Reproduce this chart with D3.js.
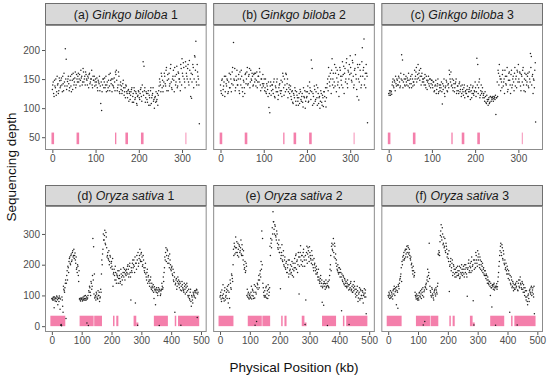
<!DOCTYPE html>
<html>
<head>
<meta charset="utf-8">
<script src="https://cdn.jsdelivr.net/npm/d3@7"></script>
<style>
  body { margin: 0; background: #fff; }
  svg { display: block; font-family: "Liberation Sans", Arial, sans-serif; }
</style>
</head>
<body>
<svg id="chart" width="550" height="378"></svg>
<script>
// sliding-window depth, one value per window (kb). The "b" arrays are the
// windows that start half a step later.
const ginkgoStep = 2;
const oryzaStep = 2.5;

const ginkgo1 = [
  132, 145, 120, 138, 150, 128, 140, 125, 152, 135,
  148, 140, 155, 130, 145, 202, 184, 138, 150, 142,
  135, 155, 128, 148, 160, 140, 152, 135, 158, 145,
  160, 150, 138, 165, 155, 145, 162, 150, 140, 158,
  148, 155, 135, 160, 145, 150, 140, 155, 148, 138,
  150, 145, 135, 148, 142, 130, 108, 96, 140, 150,
  145, 135, 155, 140, 130, 148, 138, 160, 142, 128,
  150, 135, 145, 162, 165, 130, 140, 155, 125, 145,
  138, 130, 148, 122, 135, 140, 128, 118, 132, 125,
  115, 128, 135, 120, 110, 130, 118, 125, 105, 122,
  128, 115, 132, 120, 140, 180, 172, 135, 118, 125,
  110, 130, 122, 105, 135, 118, 125, 112, 100, 120,
  128, 115, 105, 130, 150, 140, 160, 135, 128, 145,
  155, 138, 170, 148, 130, 160, 142, 175, 135, 150,
  165, 128, 155, 145, 172, 138, 160, 150, 130, 168,
  185, 155, 170, 145, 180, 160, 150, 175, 140, 165,
  120, 117, 158, 170, 150, 188, 215, 140, 162, 150,
  73
];
const ginkgo1b = [
  140, 125, 148, 135, 122, 155, 142, 130, 147, 138,
  152, 128, 142, 160, 138, 150, 132, 146, 155, 130,
  148, 138, 158, 132, 150, 145, 162, 140, 150, 155,
  145, 158, 148, 152, 140, 168, 145, 155, 162, 150,
  140, 152, 158, 142, 150, 165, 135, 148, 155, 145,
  140, 152, 130, 145, 155, 138, 145, 128, 150, 135,
  152, 140, 128, 145, 135, 158, 130, 148, 150, 140,
  138, 152, 130, 158, 148, 135, 162, 128, 140, 132,
  125, 142, 135, 128, 118, 138, 125, 130, 112, 128,
  122, 132, 110, 125, 135, 115, 128, 108, 120, 130,
  118, 125, 135, 112, 128, 122, 130, 110, 128, 115,
  125, 105, 118, 130, 108, 122, 135, 115, 118, 110,
  112, 125, 122, 138, 145, 128, 155, 148, 138, 160,
  142, 165, 130, 158, 150, 138, 168, 145, 132, 155,
  148, 170, 140, 158, 135, 162, 150, 145, 175, 140,
  160, 178, 150, 135, 172, 155, 168, 145, 182, 150,
  160, 145, 175, 135, 190, 165, 145, 175, 155, 140
];
const ginkgo2 = [
  140, 125, 150, 132, 145, 120, 155, 138, 148, 128,
  160, 135, 150, 142, 170, 213, 148, 130, 155, 165,
  140, 158, 125, 150, 165, 135, 120, 145, 125, 160,
  150, 170, 142, 158, 135, 165, 148, 155, 140, 160,
  150, 138, 162, 145, 155, 168, 140, 150, 135, 158,
  142, 130, 150, 125, 138, 120, 101, 92, 145, 130,
  140, 125, 150, 118, 135, 145, 128, 122, 140, 130,
  148, 120, 160, 135, 150, 128, 158, 142, 118, 135,
  125, 138, 115, 130, 108, 122, 135, 112, 128, 118,
  105, 125, 132, 115, 120, 110, 135, 118, 100, 128,
  120, 138, 112, 145, 130, 183, 168, 125, 108, 132,
  115, 140, 105, 125, 118, 100, 130, 110, 122, 103,
  128, 112, 102, 135, 150, 170, 145, 160, 125, 185,
  150, 135, 175, 160, 128, 165, 145, 120, 170, 155,
  140, 180, 158, 125, 168, 150, 185, 135, 162, 175,
  190, 160, 145, 178, 135, 165, 192, 150, 120, 170,
  114, 175, 155, 140, 204, 165, 219, 150, 135, 160,
  75
];
const ginkgo2b = [
  130, 148, 122, 138, 155, 128, 142, 150, 125, 145,
  135, 158, 128, 162, 140, 150, 168, 135, 148, 140,
  150, 130, 162, 140, 155, 128, 148, 135, 158, 142,
  162, 140, 155, 168, 145, 150, 160, 138, 158, 145,
  160, 148, 135, 155, 145, 162, 130, 150, 142, 138,
  150, 135, 128, 142, 132, 145, 125, 138, 122, 140,
  132, 145, 120, 138, 128, 150, 115, 135, 142, 125,
  130, 145, 155, 122, 140, 160, 132, 150, 128, 140,
  132, 120, 128, 110, 125, 118, 130, 105, 122, 112,
  118, 108, 128, 112, 125, 102, 120, 130, 112, 118,
  128, 110, 125, 135, 115, 128, 105, 120, 138, 112,
  128, 118, 135, 108, 120, 112, 125, 105, 118, 128,
  120, 135, 118, 142, 130, 155, 138, 150, 165, 140,
  160, 145, 138, 170, 152, 140, 158, 135, 165, 148,
  155, 135, 172, 160, 145, 178, 142, 165, 150, 158,
  170, 148, 182, 155, 140, 168, 158, 132, 175, 150,
  145, 165, 135, 180, 155, 170, 140, 160, 175, 155
];
const ginkgo3 = [
  125, 130, 122, 128, 140, 150, 135, 145, 155, 138,
  148, 140, 152, 135, 160, 192, 183, 145, 150, 138,
  155, 140, 148, 160, 135, 150, 142, 158, 138, 145,
  165, 155, 170, 150, 175, 160, 148, 168, 155, 145,
  150, 140, 158, 135, 148, 145, 155, 138, 150, 142,
  148, 135, 145, 130, 140, 125, 138, 150, 128, 135,
  140, 145, 107, 132, 150, 120, 138, 145, 128, 142,
  165, 150, 162, 140, 135, 148, 128, 142, 150, 130,
  138, 125, 145, 132, 120, 140, 128, 135, 118, 130,
  125, 138, 120, 132, 128, 140, 118, 135, 125, 130,
  145, 120, 186, 175, 135, 150, 122, 140, 128, 118,
  125, 112, 120, 108, 115, 105, 118, 110, 120, 118,
  118, 112, 120, 115, 89, 118, 120, 160, 175, 150,
  150, 135, 165, 145, 125, 155, 140, 170, 132, 160,
  148, 125, 165, 140, 155, 130, 170, 150, 135, 162,
  175, 145, 160, 130, 155, 165, 140, 150, 128, 158,
  145, 160, 135, 150, 194, 189, 155, 125, 148, 165,
  76
];
const ginkgo3b = [
  122, 126, 130, 124, 145, 138, 148, 130, 142, 150,
  140, 155, 145, 138, 150, 148, 135, 158, 140, 150,
  145, 152, 138, 148, 142, 155, 135, 150, 145, 140,
  150, 162, 145, 158, 152, 165, 155, 140, 160, 150,
  145, 152, 140, 155, 132, 148, 142, 150, 135, 148,
  140, 145, 128, 138, 148, 132, 142, 125, 140, 130,
  135, 128, 142, 138, 125, 135, 148, 130, 140, 135,
  158, 145, 138, 150, 130, 142, 135, 145, 125, 138,
  130, 142, 128, 138, 125, 132, 122, 140, 128, 125,
  132, 120, 128, 135, 115, 130, 125, 138, 122, 128,
  135, 128, 140, 125, 145, 118, 130, 125, 135, 122,
  118, 128, 110, 122, 112, 115, 108, 120, 112, 115,
  120, 116, 118, 122, 118, 145, 165, 140, 155, 130,
  145, 158, 138, 150, 165, 142, 155, 128, 148, 162,
  140, 158, 135, 150, 145, 160, 138, 155, 165, 145,
  150, 162, 138, 158, 145, 170, 130, 160, 148, 140,
  155, 138, 162, 145, 170, 140, 158, 150, 135, 178
];

const oryza1 = [
  90, 85, 95, 60, 88, 92, 80, 95, 70, 90,
  98, 55, 3, 1, 85, 45, 120, 110, 140, 25,
  165, 150, 190, 210, 225, 200, 235, 215, 245, 230,
  220, 238, 205, 185, 175, 195, 145, 88, 85, 92,
  88, 82, 95, 85, 90, 100, 85, 10, 92, 2,
  110, 125, 100, 140, 130, 285, 258, 170, 95, 85,
  105, 90, 115, 100, 80, 95, 110, 215, 235, 300,
  280, 312, 265, 290, 225, 240, 215, 200, 230, 190,
  210, 185, 130, 175, 165, 195, 150, 170, 160, 140,
  180, 155, 145, 170, 135, 165, 190, 175, 150, 180,
  185, 170, 200, 160, 195, 175, 85, 180, 205, 190,
  215, 175, 75, 205, 230, 3, 195, 220, 250, 210,
  240, 225, 200, 215, 180, 190, 170, 150, 185, 160,
  145, 130, 150, 125, 140, 115, 135, 90, 120, 70,
  110, 118, 100, 125, 2, 115, 105, 120, 130, 125,
  145, 190, 215, 255, 230, 245, 220, 205, 235, 200,
  180, 195, 165, 150, 175, 45, 140, 155, 130, 160,
  150, 125, 140, 3, 115, 135, 120, 110, 130, 105,
  125, 140, 115, 95, 100, 85, 120, 65, 95, 75,
  105, 95, 110, 115, 120, 28, 110
];
const oryza1b = [
  88, 92, 85, 95, 82, 90, 98, 86, 92, 80,
  92, 88, 5, 95, 65, 130, 115, 125, 150, 140,
  180, 195, 175, 220, 205, 230, 210, 240, 225, 250,
  230, 215, 225, 190, 200, 165, 180, 90, 82, 88,
  92, 85, 88, 98, 84, 90, 95, 88, 100, 115,
  130, 110, 145, 120, 165, 150, 105, 92, 100, 110,
  95, 88, 100, 110, 92, 120, 170, 200, 250, 280,
  295, 270, 305, 255, 230, 220, 245, 210, 225, 205,
  195, 220, 170, 185, 150, 175, 140, 165, 180, 155,
  165, 140, 185, 160, 150, 175, 160, 185, 170, 165,
  175, 195, 185, 170, 205, 160, 190, 175, 215, 200,
  195, 225, 205, 185, 215, 240, 205, 230, 215, 235,
  210, 195, 230, 190, 175, 205, 160, 175, 140, 165,
  150, 140, 160, 120, 130, 125, 110, 128, 115, 120,
  125, 108, 118, 112, 120, 100, 115, 140, 120, 160,
  175, 225, 240, 210, 250, 205, 228, 190, 215, 185,
  190, 170, 185, 145, 160, 135, 150, 120, 145, 140,
  135, 145, 118, 130, 145, 125, 115, 140, 120, 135,
  110, 130, 100, 120, 90, 110, 80, 100, 85, 110,
  100, 115, 92, 108, 118, 105
];
const oryza2 = [
  95, 110, 80, 100, 135, 90, 115, 85, 100, 120,
  130, 75, 110, 60, 140, 120, 165, 145, 250, 270,
  235, 290, 255, 240, 270, 225, 260, 245, 280, 230,
  250, 215, 200, 190, 175, 205, 100, 95, 110, 88,
  105, 92, 130, 100, 115, 90, 135, 3, 110, 15,
  140, 120, 165, 150, 180, 210, 310, 285, 125, 100,
  115, 95, 130, 105, 90, 120, 110, 260, 285, 255,
  320, 372, 340, 300, 325, 290, 310, 270, 250, 280,
  240, 122, 230, 265, 210, 245, 195, 225, 185, 210,
  175, 200, 160, 215, 185, 170, 195, 165, 205, 180,
  220, 190, 235, 210, 175, 240, 105, 225, 262, 200,
  230, 195, 250, 215, 5, 85, 240, 205, 255, 225,
  258, 230, 215, 245, 200, 190, 220, 205, 180, 195,
  170, 160, 185, 150, 145, 165, 140, 78, 130, 68,
  140, 120, 150, 130, 2, 145, 125, 165, 200, 180,
  270, 245, 285, 225, 260, 235, 215, 185, 200, 170,
  190, 160, 175, 50, 150, 165, 140, 155, 130, 145,
  125, 150, 135, 5, 120, 140, 115, 130, 110, 125,
  145, 120, 95, 110, 130, 80, 105, 125, 90, 115,
  100, 115, 75, 105, 95, 118, 40
];
const oryza2b = [
  100, 88, 118, 92, 105, 82, 125, 95, 110, 90,
  115, 135, 90, 150, 125, 170, 155, 200, 230, 260,
  255, 240, 275, 230, 250, 265, 240, 255, 235, 265,
  230, 245, 185, 210, 180, 195, 120, 105, 92, 100,
  95, 110, 88, 120, 98, 110, 92, 130, 105, 125,
  135, 150, 125, 170, 160, 185, 200, 140, 110, 95,
  100, 125, 92, 115, 135, 100, 125, 230, 270, 280,
  300, 340, 315, 330, 295, 280, 300, 255, 265, 240,
  255, 220, 240, 215, 230, 200, 215, 190, 205, 175,
  190, 215, 170, 180, 200, 175, 210, 185, 160, 190,
  205, 230, 185, 215, 200, 225, 195, 240, 215, 230,
  210, 240, 225, 195, 230, 215, 260, 235, 245, 210,
  240, 220, 205, 230, 215, 180, 200, 190, 170, 185,
  175, 150, 160, 140, 155, 130, 150, 125, 138, 145,
  130, 138, 125, 140, 132, 128, 150, 185, 230, 260,
  250, 265, 240, 270, 220, 205, 195, 180, 175, 190,
  175, 185, 160, 170, 145, 160, 135, 150, 140, 130,
  140, 130, 118, 135, 125, 145, 120, 110, 135, 115,
  130, 105, 120, 100, 115, 92, 110, 85, 120, 100,
  90, 110, 100, 122, 108, 95
];
const oryza3 = [
  100, 110, 90, 115, 95, 105, 88, 120, 130, 100,
  125, 70, 115, 58, 130, 140, 155, 170, 145, 200,
  215, 240, 220, 250, 235, 260, 225, 255, 240, 230,
  215, 200, 190, 170, 180, 165, 110, 95, 105, 90,
  100, 85, 110, 95, 105, 120, 100, 4, 112, 15,
  125, 140, 150, 185, 165, 270, 130, 110, 95, 120,
  100, 85, 115, 105, 125, 110, 130, 235, 245, 230,
  295, 330, 280, 300, 270, 255, 285, 240, 260, 225,
  235, 210, 113, 200, 220, 190, 215, 175, 195, 170,
  185, 160, 175, 195, 165, 180, 155, 190, 170, 185,
  175, 195, 160, 185, 200, 170, 97, 190, 215, 180,
  205, 175, 225, 195, 83, 4, 215, 190, 230, 205,
  245, 215, 200, 225, 185, 210, 195, 175, 190, 165,
  180, 155, 165, 140, 150, 135, 145, 100, 125, 62,
  135, 120, 140, 125, 3, 130, 120, 145, 175, 210,
  245, 270, 230, 255, 215, 235, 200, 185, 205, 170,
  185, 155, 170, 45, 140, 160, 125, 145, 115, 135,
  120, 140, 130, 4, 115, 150, 125, 160, 135, 120,
  140, 110, 125, 100, 115, 85, 95, 70, 105, 80,
  120, 105, 130, 110, 125, 95, 40
];
const oryza3b = [
  95, 105, 100, 92, 110, 98, 115, 105, 122, 112,
  118, 128, 110, 135, 122, 150, 162, 190, 210, 225,
  230, 215, 245, 225, 250, 240, 262, 235, 250, 220,
  225, 205, 180, 195, 160, 175, 100, 88, 98, 85,
  92, 108, 98, 115, 90, 110, 125, 95, 118, 128,
  135, 120, 160, 145, 175, 155, 115, 100, 125, 105,
  92, 110, 120, 98, 118, 105, 140, 232, 240, 275,
  310, 290, 320, 265, 290, 260, 245, 270, 250, 235,
  220, 245, 195, 210, 180, 205, 165, 200, 185, 160,
  175, 190, 165, 180, 170, 195, 160, 175, 200, 165,
  185, 170, 200, 175, 190, 160, 185, 205, 175, 195,
  190, 210, 180, 200, 215, 185, 205, 240, 215, 195,
  225, 235, 190, 215, 200, 180, 205, 185, 170, 180,
  165, 170, 150, 160, 140, 145, 130, 140, 125, 132,
  128, 135, 118, 130, 125, 138, 128, 160, 195, 230,
  260, 240, 265, 220, 245, 205, 215, 190, 180, 195,
  170, 180, 150, 165, 135, 150, 130, 140, 125, 120,
  135, 125, 145, 118, 140, 130, 150, 140, 125, 145,
  120, 135, 110, 125, 95, 115, 80, 100, 90, 115,
  110, 125, 100, 118, 105, 130
];

// annotated regions, [start kb, end kb, low depth, high depth]
const ginkgoGenes = [
  [-2, 4, 38, 58], [56, 62, 38, 58], [145, 148, 38, 58],
  [169, 175, 38, 58], [205, 211, 38, 58], [308, 310, 38, 58]
];
const oryzaGenes = [
  [-5, 45, 0, 34], [93, 140, 0, 34], [142, 168, 0, 34],
  [205, 210, 0, 34], [216, 223, 0, 34], [274, 283, 0, 34],
  [283, 290, 0, 12], [342, 389, 0, 34], [412, 417, 0, 34],
  [423, 494, 0, 34]
];

const species = ['Ginkgo biloba', 'Oryza sativa'];
const panelLetters = ['(a)', '(b)', '(c)', '(d)', '(e)', '(f)'];
const ginkgoYTicks = [50, 100, 150, 200];
const oryzaYTicks = [0, 100, 200, 300];
const ginkgoXTicks = [0, 100, 200, 300];
const oryzaXTicks = [0, 100, 200, 300, 400, 500];

const svg = d3.select('#chart');

const panelLeft = 45, panelRight = 543, gap = 6.5;
const panelW = (panelRight - panelLeft - 2 * gap) / 3;

const rows = [
  {stripTop: 3, top: 25, bottom: 150, yDomain: [28, 243], xDomain: [-17, 357],
   yTicks: ginkgoYTicks, xTicks: ginkgoXTicks, genes: ginkgoGenes, step: ginkgoStep,
   series: [[ginkgo1, ginkgo1b], [ginkgo2, ginkgo2b], [ginkgo3, ginkgo3b]], name: species[0]},
  {stripTop: 185, top: 206, bottom: 332, yDomain: [-19, 391], xDomain: [-23, 519],
   yTicks: oryzaYTicks, xTicks: oryzaXTicks, genes: oryzaGenes, step: oryzaStep,
   series: [[oryza1, oryza1b], [oryza2, oryza2b], [oryza3, oryza3b]], name: species[1]}
];

rows.forEach(function(row, r) {
  var y = d3.scaleLinear().domain(row.yDomain).range([row.bottom, row.top]);

  row.series.forEach(function(pair, c) {
    var x0 = panelLeft + c * (panelW + gap);
    var x = d3.scaleLinear().domain(row.xDomain).range([x0, x0 + panelW]);
    var g = svg.append('g');

    // window start (kb) for each value
    var pts = pair[0].map(function(v, i) { return {kb: i * row.step, v: v}; })
      .concat(pair[1].map(function(v, i) { return {kb: (i + 0.5) * row.step, v: v}; }));

    // strip
    g.append('rect')
      .attr('x', x0 + 0.5).attr('y', row.stripTop + 0.5)
      .attr('width', panelW - 1).attr('height', row.top - row.stripTop - 1)
      .attr('fill', '#d9d9d9').attr('stroke', '#6e6e6e').attr('stroke-width', 1);

    var label = g.append('text')
      .attr('x', x0 + panelW / 2)
      .attr('y', (row.stripTop + row.top) / 2 + 4.5)
      .attr('text-anchor', 'middle')
      .attr('font-size', 12.3)
      .attr('fill', '#1a1a1a');
    label.append('tspan').text(panelLetters[r * 3 + c] + ' ');
    label.append('tspan').attr('font-style', 'italic').text(row.name);
    label.append('tspan').text(' ' + (c + 1));

    // gene blocks
    g.selectAll('rect.gene')
      .data(row.genes)
      .join('rect')
      .attr('class', 'gene')
      .attr('x', function(d) { return x(d[0]); })
      .attr('width', function(d) { return x(d[1]) - x(d[0]); })
      .attr('y', function(d) { return y(d[3]); })
      .attr('height', function(d) { return y(d[2]) - y(d[3]); })
      .attr('fill', '#f47fab');

    // depth points
    g.selectAll('circle')
      .data(pts)
      .join('circle')
      .attr('cx', function(d) { return x(d.kb); })
      .attr('cy', function(d) { return y(d.v); })
      .attr('r', 0.75)
      .attr('fill', '#1f1f1f');

    // panel border
    g.append('rect')
      .attr('x', x0 + 0.5).attr('y', row.top + 0.5)
      .attr('width', panelW - 1).attr('height', row.bottom - row.top - 1)
      .attr('fill', 'none').attr('stroke', '#8c8c8c').attr('stroke-width', 1);

    // x axis
    var xAxis = g.append('g')
      .attr('transform', 'translate(0,' + row.bottom + ')')
      .call(d3.axisBottom(x).tickValues(row.xTicks).tickSize(3).tickPadding(2));
    xAxis.select('.domain').remove();
    xAxis.selectAll('line').attr('stroke', '#555');
    xAxis.selectAll('text').attr('font-size', 10).attr('fill', '#4d4d4d')
      .attr('font-family', '"Liberation Sans", Arial, sans-serif');

    if (c === 0) {
      var yAxis = g.append('g')
        .attr('transform', 'translate(' + x0 + ',0)')
        .call(d3.axisLeft(y).tickValues(row.yTicks).tickSize(3).tickPadding(2));
      yAxis.select('.domain').remove();
      yAxis.selectAll('line').attr('stroke', '#555');
      yAxis.selectAll('text').attr('font-size', 10).attr('fill', '#4d4d4d')
        .attr('font-family', '"Liberation Sans", Arial, sans-serif');
    }
  });
});

// axis titles
svg.append('text')
  .attr('transform', 'translate(16,167) rotate(-90)')
  .attr('text-anchor', 'middle')
  .attr('font-size', 13.5)
  .attr('fill', '#111')
  .text('Sequencing depth');

svg.append('text')
  .attr('x', (panelLeft + panelRight) / 2)
  .attr('y', 372)
  .attr('text-anchor', 'middle')
  .attr('font-size', 13.5)
  .attr('fill', '#111')
  .text('Physical Position (kb)');
</script>
</body>
</html>
